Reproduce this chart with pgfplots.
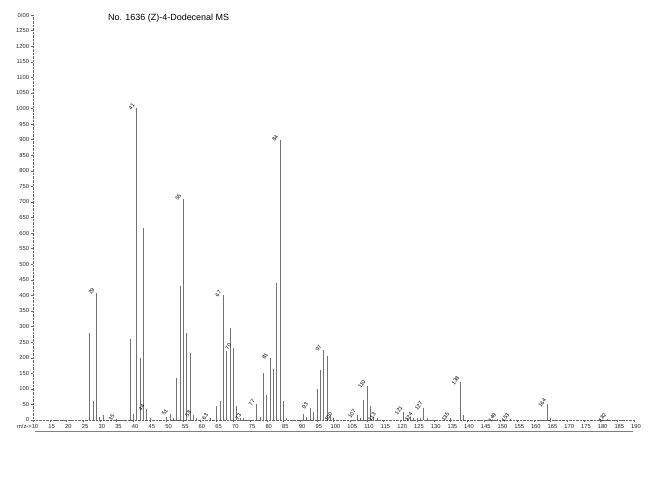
\documentclass[border=0pt]{standalone}
\usepackage{fontspec}
\setmainfont{Liberation Sans}
\usepackage{pgfplots}
\pgfplotsset{compat=1.18}
\begin{document}
\begin{tikzpicture}[x=1bp,y=1bp]
\useasboundingbox (0,0) rectangle (650,498);
\begin{axis}[
  at={(33bp,78bp)}, anchor=south west,
  scale only axis, width=601bp, height=405bp,
  xmin=10, xmax=190, ymin=0, ymax=1300,
  axis x line*=bottom, axis y line*=left,
  axis line style={densely dotted, black!60, -},
  xtick={10,15,...,190},
  xticklabels={\llap{m/z->}10,15,20,25,30,35,40,45,50,55,60,65,70,75,80,85,90,95,100,105,110,115,120,125,130,135,140,145,150,155,160,165,170,175,180,185,190},
  minor x tick num=4,
  ytick={0,50,...,1300},
  yticklabels={0,50,100,150,200,250,300,350,400,450,500,550,600,650,700,750,800,850,900,950,1000,1050,1100,1150,1200,1250,0/00},
  tick align=outside,
  major tick length=2bp, minor tick length=1bp,
  tick style={black!60, line width=0.3pt},
  /pgf/number format/assume math mode=true,
  tick label style={font=\fontsize{5.8}{6}\selectfont, text=black!85},
  xticklabel style={yshift=1bp, xshift=2bp},
  yticklabel style={xshift=1.5bp},
  clip=false,
]
\addplot[ycomb, black!55, line width=0.6pt, mark=none] coordinates {
(27,280) (28,60) (29,408) (30,10) (31,15) (35,3)
(39,260) (40,20) (41,1000) (42,200) (43,615) (44,35) (45,5)
(50,10) (51,20) (52,8) (53,135) (54,430) (55,710) (56,280) (57,215) (58,15) (59,5)
(63,5) (65,45) (66,60) (67,400) (68,220) (69,295) (70,230) (71,45) (72,5) (73,5)
(77,50) (78,10) (79,150) (80,80) (81,200) (82,165) (83,440) (84,900) (85,60) (86,5)
(91,20) (92,10) (93,40) (94,25) (95,100) (96,160) (97,225) (98,205) (99,15) (100,5)
(107,15) (108,8) (109,65) (110,110) (111,45) (112,10) (113,5)
(121,25) (122,8) (123,10) (124,5) (125,8) (126,5) (127,40) (128,8)
(135,5) (138,122) (139,15) (149,3) (153,3) (164,50) (165,8) (182,3)
};
\addplot[draw=none, mark=none, point meta=x,
  nodes near coords={\pgfmathprintnumber{\pgfplotspointmeta}},
  every node near coord/.append style={rotate=55, anchor=center, xshift=-1.5bp, yshift=5bp,
    font=\fontsize{5.5}{6}\selectfont, text=black, inner sep=0.5bp}]
coordinates {
(29,408) (35,3) (41,1000) (44,35) (51,20) (55,710) (58,15) (63,5) (67,400) (70,230) (73,5)
(77,50) (81,200) (84,900) (93,40) (97,225) (100,5) (107,15) (110,110) (113,5)
(121,25) (124,5) (127,40) (135,5) (138,122) (149,3) (153,3) (164,50) (182,3)
};
\end{axis}
\draw[black!50, line width=0.4pt] (35,67) -- (633,67);
\node[anchor=west, font=\fontsize{9}{10}\selectfont, inner sep=0] at (108,480) {No. 1636 (Z)-4-Dodecenal MS};
\end{tikzpicture}
\end{document}
